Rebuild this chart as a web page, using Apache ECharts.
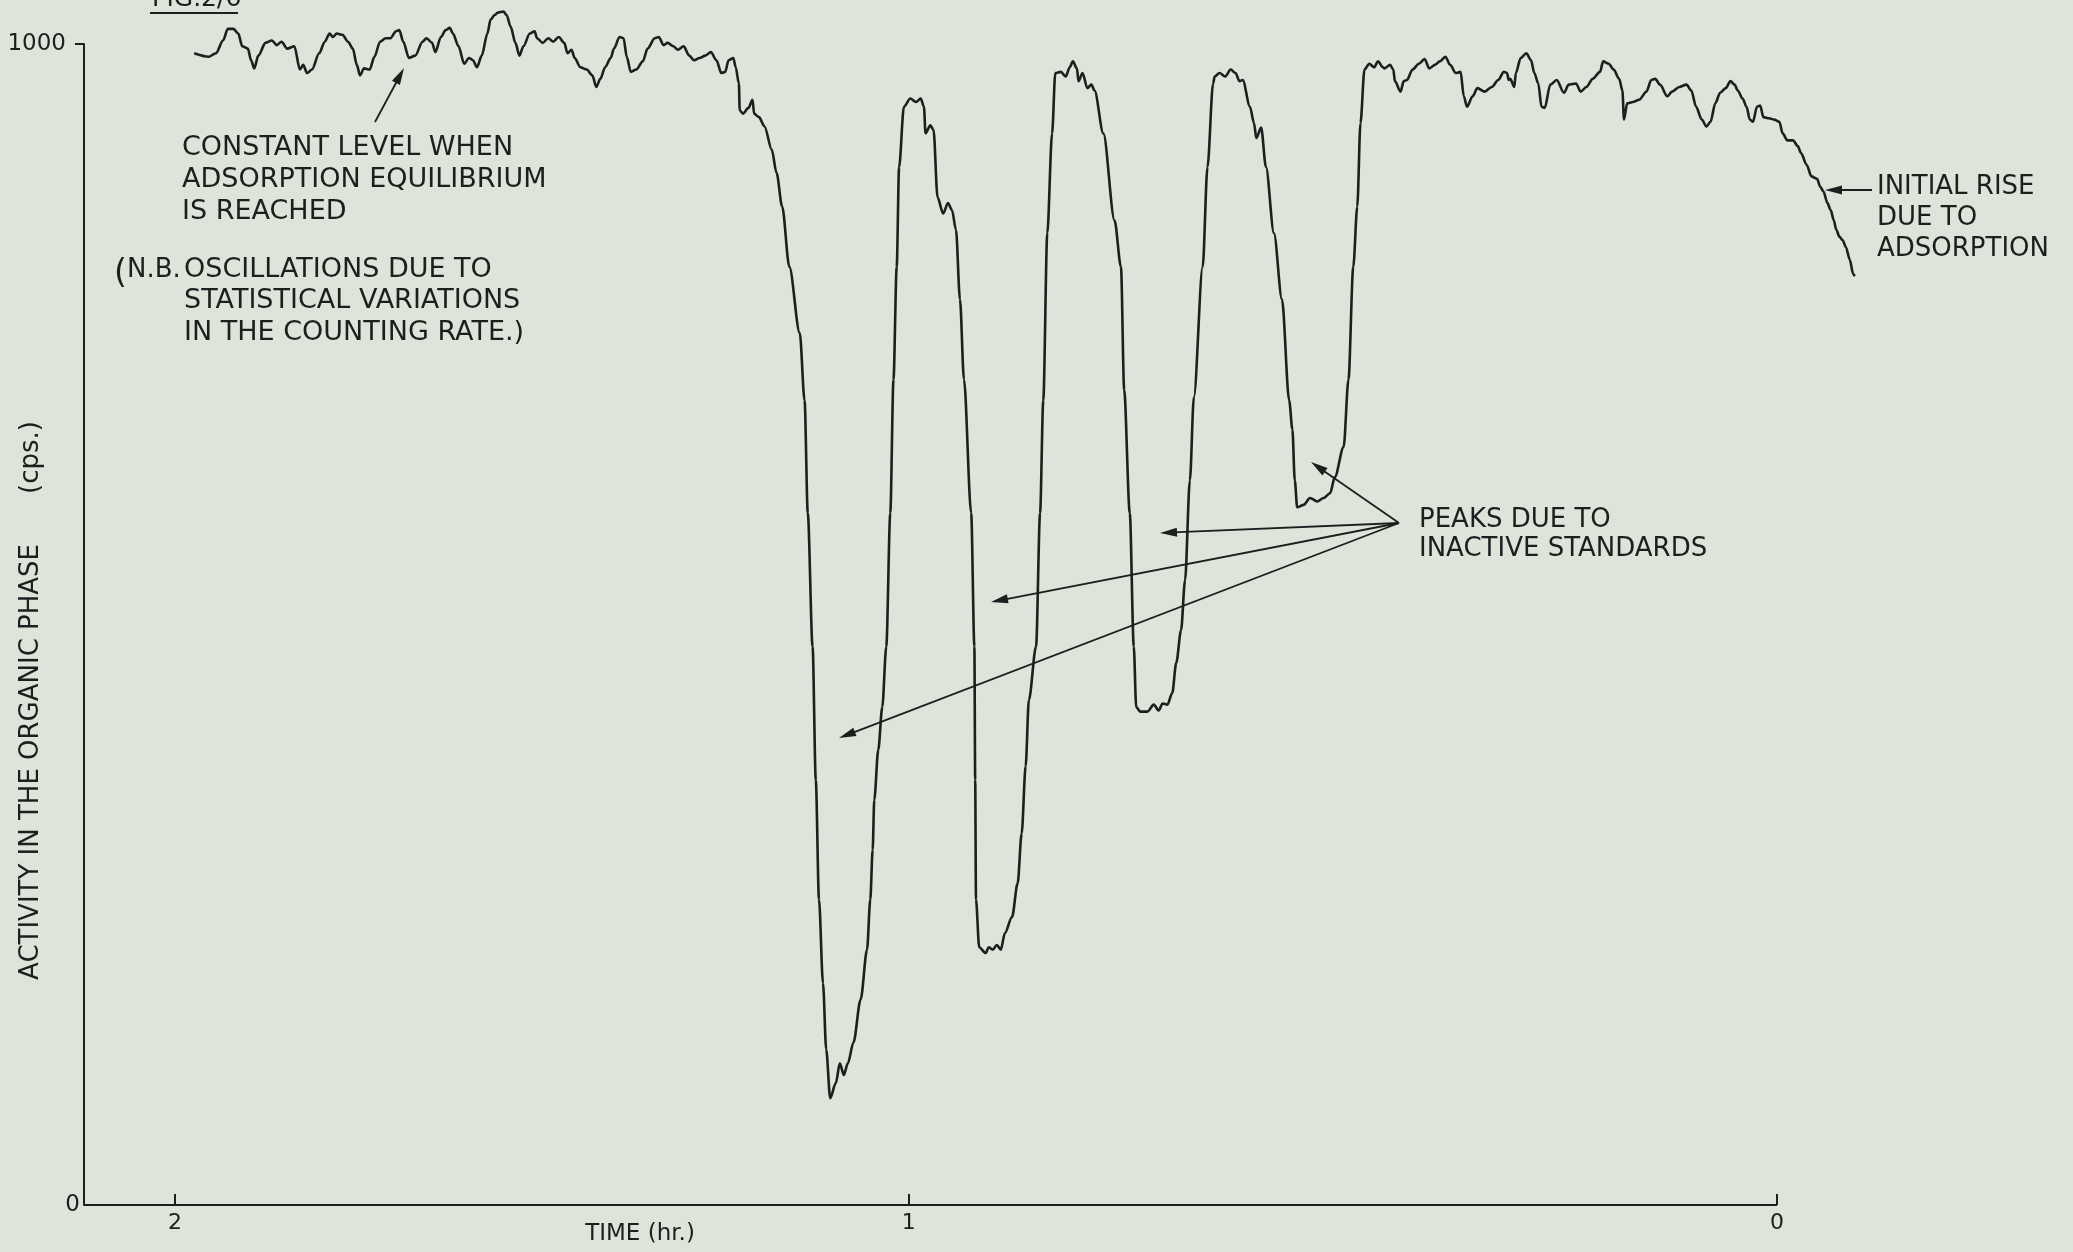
<!DOCTYPE html>
<html><head><meta charset="utf-8">
<script src="https://cdn.jsdelivr.net/npm/echarts@6/dist/echarts.min.js"></script>
<style>html,body{margin:0;padding:0;background:#dde4da;}#c{width:2073px;height:1252px;}</style>
</head><body><div id="c"></div><script>
// Time axis reads right-to-left (hours); trace.
const timeHr = [
1.976,1.958,1.949,1.940,1.934,1.927,1.921,1.916,1.909,1.905,1.901,1.896,1.887,1.879,1.873,1.867,1.860,1.851,1.844,1.840,
1.835,1.829,1.820,1.813,1.807,1.803,1.798,1.791,1.784,1.778,1.773,1.769,1.764,1.757,1.751,1.744,1.737,1.731,1.724,1.720,
1.715,1.708,1.700,1.691,1.686,1.679,1.675,1.668,1.662,1.657,1.653,1.646,1.639,1.633,1.628,1.623,1.617,1.610,1.606,1.601,
1.597,1.590,1.586,1.581,1.575,1.570,1.565,1.557,1.551,1.548,1.541,1.534,1.528,1.521,1.514,1.510,1.505,1.501,1.494,1.486,
1.479,1.474,1.469,1.463,1.456,1.452,1.445,1.440,1.436,1.431,1.424,1.416,1.410,1.401,1.396,1.390,1.385,1.378,1.372,1.365,
1.358,1.352,
1.345,1.338,1.331,1.324,1.318,1.313,1.309,1.303,1.300,1.296,1.295,1.291,1.284,1.279,1.277,1.271,1.264,1.255,1.249,1.242,
1.233,1.220,1.214,1.210,1.204,1.200,1.196,1.191,1.187,1.182,1.175,1.170,1.165,1.160,1.153,1.144,1.136,1.132,1.129,1.127,
1.122,1.117,1.112,1.107,1.103,1.099,1.096,1.090,1.082,1.075,1.069,1.065,1.063,1.057,1.053,1.048,1.041,1.035,1.030,1.025,
1.020,1.015,1.006,1.002,1.001,1.000,0.996,0.988,0.984,0.979,0.974,0.969,0.964,0.955,0.948,0.943,0.938,0.934,0.925,0.920,
0.916,0.911,0.905,0.901,0.894,0.888,0.883,0.879,0.874,0.872,0.867,0.861,0.856,0.852,0.841,0.827,0.819,0.815,0.808,0.803,
0.800,0.795,0.786,0.778,0.772,0.767,0.761,0.755,0.750,0.744,0.739,0.733,0.728,0.717,0.711,0.704,0.702,0.696,0.689,0.682,
0.676,0.671,0.667,0.658,0.653,0.650,0.644,0.638,0.628,0.618,0.609,0.605,0.602,0.599,0.591,0.583,0.574,0.566,0.558,0.552,
0.541,0.535,0.529,0.524,0.520,0.515,0.509,0.503,0.498,0.492,0.490,0.483,0.479,0.477,0.470,0.466,0.462,0.455,0.447,0.440,
0.434,0.427,0.421,0.414,0.408,0.401,0.395,0.391,0.387,0.380,0.374,0.365,0.356,0.348,0.341,0.337,0.335,0.333,0.328,0.326,
0.320,0.313,0.307,0.303,0.298,0.294,0.290,0.283,0.275,0.266,0.260,0.251,0.245,0.238,0.230,0.221,0.217,0.210,0.204,0.197,
0.193,0.191,0.187,0.180,0.172,0.163,0.157,0.152,0.146,0.137,0.131,0.122,0.113,0.107,0.101,0.094,0.088,0.083,0.077,0.071,
0.064,0.058,0.053,0.049,0.043,0.038,0.034,0.030,0.025,0.021,0.017,0.010,0.004,-0.003,-0.007,-0.013,-0.020,-0.026,-0.030,-0.037,
-0.043,-0.050,-0.054,-0.058,-0.063,-0.067,-0.071,-0.074,-0.078,-0.082,-0.086,-0.091,-0.095,-0.097
];
const activityCps = [
992,989,992,1003,1013,1013,1009,998,996,986,979,990,1001,1003,999,1002,996,998,978,982,
975,978,992,1002,1009,1006,1009,1008,1002,996,982,973,979,978,989,1002,1005,1005,1011,1012,
1002,988,990,1002,1005,1001,993,1006,1012,1014,1009,998,983,988,986,980,990,1009,1021,1025,
1027,1028,1025,1015,1001,990,998,1009,1011,1005,1001,1005,1002,1006,1001,992,995,988,980,978,
973,963,970,980,988,996,1006,1005,989,976,978,985,996,1005,1006,999,1001,998,995,998,
990,986,
988,990,993,986,975,976,986,988,980,966,943,940,945,952,940,937,929,909,889,860,
808,751,693,596,481,366,263,191,134,92,105,122,112,122,140,177,220,263,306,349,
392,429,481,596,711,808,894,946,953,950,953,946,923,930,926,868,854,863,857,840,
780,711,596,481,366,263,222,217,222,220,224,220,234,248,277,320,378,435,481,596,
693,837,923,975,976,972,980,985,979,968,975,962,965,960,923,848,808,702,596,481,
429,425,425,431,426,432,431,441,467,495,538,624,696,808,894,966,972,975,972,978,
975,968,969,946,932,919,928,894,837,780,693,668,624,601,603,609,606,609,613,627,
653,711,808,860,932,978,983,980,985,980,979,982,978,968,959,968,969,978,983,987,
979,982,985,989,982,975,976,955,946,955,962,959,963,969,976,975,969,970,963,975,
988,992,986,975,966,946,945,965,969,958,965,966,959,963,970,976,985,983,978,970,
960,935,949,950,952,959,969,970,965,955,959,963,965,960,946,935,929,933,949,958,
962,968,965,960,953,946,935,933,946,947,937,936,935,933,923,917,917,912,906,896,
886,884,877,873,863,857,848,840,834,831,825,814,802,800
];
const xTickValues = [2, 1.084, 0];
const xTickLabels = ['2', '1', '0'];
const yTickValues = [0, 1000];
const yTickLabels = ['0', '1000'];
const X_MAX = 2.1136;   // left end of the time axis line
const X_MIN = -0.1;     // trace continues past t = 0 on the right

const INK = '#1e1e1e';
const FONT = 'DejaVu Sans';

function arrow(x1, y1, x2, y2) {
  const dx = x2 - x1, dy = y2 - y1, L = Math.hypot(dx, dy), ux = dx / L, uy = dy / L;
  const hl = 17, hw = 4.5;
  const bx = x2 - ux * hl, by = y2 - uy * hl;
  return [
    {type: 'line', silent: true, shape: {x1: x1, y1: y1, x2: bx + ux * 4, y2: by + uy * 4}, style: {stroke: INK, lineWidth: 1.8}},
    {type: 'polygon', silent: true, shape: {points: [[x2, y2], [bx - uy * hw, by + ux * hw], [bx + uy * hw, by - ux * hw]]}, style: {fill: INK}}
  ];
}
function label(text, x, y, lh, size, extra) {
  return {type: 'text', silent: true, style: Object.assign({
    text: text, x: x, y: y, fontSize: size, fontFamily: FONT, fill: INK,
    align: 'left', verticalAlign: 'top', lineHeight: lh
  }, extra || {})};
}

const chart = echarts.init(document.getElementById('c'), null, {renderer: 'canvas'});
const graphics = [].concat(
  [label('FIG.2/6', 152, 12, 25, 25, {verticalAlign: 'bottom'}),
   {type: 'line', silent: true, shape: {x1: 150, y1: 13, x2: 238, y2: 13}, style: {stroke: INK, lineWidth: 2}},
   label('CONSTANT LEVEL WHEN\nADSORPTION EQUILIBRIUM\nIS REACHED', 182, 132, 32, 27),
   label('(', 114, 274, 36, 33, {verticalAlign: 'middle'}),
   label('N.B.', 127, 270, 32, 26, {verticalAlign: 'middle'}),
   label('OSCILLATIONS DUE TO\nSTATISTICAL VARIATIONS\nIN THE COUNTING RATE.)', 184, 254, 31.5, 27),
   label('PEAKS DUE TO\nINACTIVE STANDARDS', 1419, 506, 29, 26),
   label('INITIAL RISE\nDUE TO\nADSORPTION', 1877, 172, 31, 26)],
  arrow(375, 122, 404, 68),
  arrow(1399, 523, 1311, 462),
  arrow(1399, 523, 1160, 533),
  arrow(1399, 523, 991, 602),
  arrow(1399, 523, 839, 738),
  arrow(1872, 190, 1825, 190)
);

const plotLeft = 84, pxPerHour = 801;
const plotRight = 2073 - (plotLeft + (X_MAX - X_MIN) * pxPerHour);

chart.setOption({
  backgroundColor: '#dde4da',
  animation: false,
  textStyle: {fontFamily: FONT, color: INK},
  grid: {left: plotLeft, right: plotRight, top: 44, bottom: 47, containLabel: false, outerBoundsMode: 'none'},
  xAxis: {
    type: 'value', inverse: true, min: X_MIN, max: X_MAX,
    name: 'TIME (hr.)', nameLocation: 'middle', nameGap: 18, nameMoveOverlap: false,
    nameTextStyle: {fontSize: 23, fontFamily: FONT, color: INK, padding: [0, 661, 0, 0]},
    axisLine: {show: false, onZero: false},
    axisTick: {show: true, inside: true, length: 11, customValues: xTickValues, lineStyle: {color: INK, width: 2}},
    axisLabel: {show: true, customValues: xTickValues, margin: 7, fontSize: 22, fontFamily: FONT, color: INK,
      formatter: function (v) {
        let best = 0;
        xTickValues.forEach(function (t, i) { if (Math.abs(t - v) < Math.abs(xTickValues[best] - v)) best = i; });
        return xTickLabels[best];
      }},
    splitLine: {show: false}
  },
  yAxis: {
    type: 'value', min: 0, max: 1000,
    name: '{t|ACTIVITY IN THE ORGANIC PHASE}{u|(cps.)}', nameLocation: 'middle', nameGap: 40, nameMoveOverlap: false,
    nameTextStyle: {fontSize: 26, fontFamily: FONT, color: INK, padding: [0, 152, 0, 0],
      rich: {t: {fontSize: 26, fontFamily: FONT, color: INK}, u: {fontSize: 26, fontFamily: FONT, color: INK, padding: [0, 0, 0, 50]}}},
    axisLine: {show: true, onZero: false, lineStyle: {color: INK, width: 2}},
    axisTick: {show: true, inside: false, length: 9, customValues: [1000], lineStyle: {color: INK, width: 2}},
    axisLabel: {show: true, customValues: yTickValues, margin: 4, fontSize: 23, fontFamily: FONT, color: INK,
      formatter: function (v) {
        const i = yTickValues.indexOf(v);
        return v === 1000 ? '{a|' + yTickLabels[i] + '}' : '{b|' + yTickLabels[i] + '}';
      },
      rich: {a: {fontSize: 23, fontFamily: FONT, color: INK, padding: [0, 14, 0, 0]}, b: {fontSize: 23, fontFamily: FONT, color: INK}}},
    splitLine: {show: false}
  },
  series: [{
    type: 'line', name: 'Activity',
    data: timeHr.map(function (t, i) { return [t, activityCps[i]]; }),
    showSymbol: false, symbol: 'none', smooth: 0.3, smoothMonotone: 'x', clip: false, silent: true,
    lineStyle: {color: INK, width: 2.6},
    markLine: {
      silent: true, symbol: ['none', 'none'], label: {show: false},
      lineStyle: {color: INK, width: 2, type: 'solid'},
      data: [[{coord: [X_MAX, 0]}, {coord: [0, 0]}]]
    }
  }],
  graphic: graphics
});
</script></body></html>
